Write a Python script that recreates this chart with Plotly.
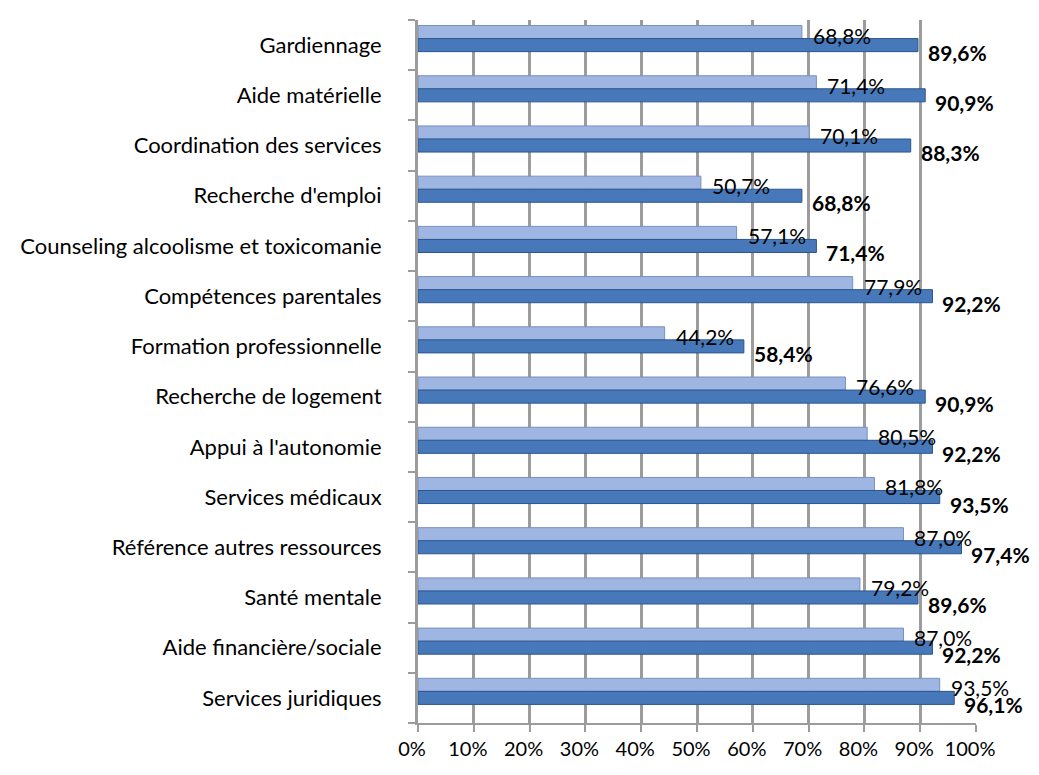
import plotly.graph_objects as go

categories = [
    "Services juridiques",
    "Aide financière/sociale",
    "Santé mentale",
    "Référence autres ressources",
    "Services médicaux",
    "Appui à l'autonomie",
    "Recherche de logement",
    "Formation professionnelle",
    "Compétences parentales",
    "Counseling alcoolisme et toxicomanie",
    "Recherche d'emploi",
    "Coordination des services",
    "Aide matérielle",
    "Gardiennage",
]
series_light = [93.5, 87.0, 79.2, 87.0, 81.8, 80.5, 76.6, 44.2, 77.9, 57.1, 50.7, 70.1, 71.4, 68.8]
series_dark = [96.1, 92.2, 89.6, 97.4, 93.5, 92.2, 90.9, 58.4, 92.2, 71.4, 68.8, 88.3, 90.9, 89.6]
x_ticks = [0, 10, 20, 30, 40, 50, 60, 70, 80, 90, 100]
x_tick_labels = [f"{t}%" for t in x_ticks]

FONT = "Lato"
BAR_W = 0.26
pos = list(range(len(categories)))
pos_light = [p + BAR_W for p in pos]

def fmt(v):
    return f"{v:.1f}".replace(".", ",") + "%"

fig = go.Figure()
fig.add_trace(go.Bar(
    y=pos_light, x=series_light, orientation="h", width=BAR_W,
    marker=dict(color="#9FB5E2", line=dict(color="#7890C0", width=1)),
    showlegend=False, hoverinfo="x",
))
fig.add_trace(go.Bar(
    y=pos, x=series_dark, orientation="h", width=BAR_W,
    marker=dict(color="#4779BA", line=dict(color="#2C568E", width=1)),
    showlegend=False, hoverinfo="x",
))

for p, v in zip(pos_light, series_light):
    fig.add_annotation(x=v, y=p, text=fmt(v), showarrow=False, xanchor="left",
                       xshift=9, yshift=-3, font=dict(family=FONT, size=21, color="#000"))
for p, v in zip(pos, series_dark):
    fig.add_annotation(x=v, y=p, text="<b>" + fmt(v) + "</b>", showarrow=False, xanchor="left",
                       xshift=8, yshift=-7, font=dict(family=FONT, size=21, color="#000"))

fig.update_layout(
    width=1039, height=775,
    margin=dict(l=399, r=71, t=12, b=60),
    paper_bgcolor="white", plot_bgcolor="white",
    barmode="overlay",
    font=dict(family=FONT, size=21, color="#000"),
    xaxis=dict(
        range=[0, 100], tickvals=x_ticks, ticktext=x_tick_labels,
        showgrid=True, gridcolor="#9C9C9C", gridwidth=3,
        showline=True, linecolor="#9C9C9C", linewidth=2,
        ticks="outside", ticklen=7, tickcolor="#9C9C9C", tickwidth=2,
        ticklabelshift=-6, zeroline=False, fixedrange=True,
        tickfont=dict(family=FONT, size=20),
    ),
    yaxis=dict(
        range=[-0.5, 13.5], tickvals=pos, ticktext=categories,
        showgrid=False, zeroline=False,
        showline=True, linecolor="#9C9C9C", linewidth=3,
        ticks="", ticklabelstandoff=29,
        minor=dict(tick0=0.5, dtick=1, ticks="outside", ticklen=7, tickcolor="#9C9C9C", tickwidth=2, showgrid=False),
        tickfont=dict(family=FONT, size=22),
    ),
)

fig.write_html("out.html")
